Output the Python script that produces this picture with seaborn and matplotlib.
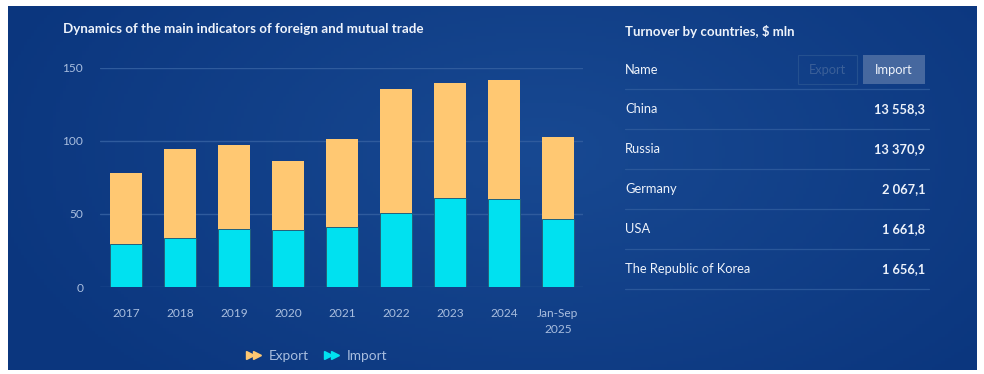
import numpy as np
import pandas as pd
import matplotlib
matplotlib.use("Agg")
import matplotlib.pyplot as plt
from matplotlib.lines import Line2D
from matplotlib.legend_handler import HandlerTuple
from matplotlib.patches import Rectangle
import seaborn as sns

# ---------------- data ----------------
years = ["2017", "2018", "2019", "2020", "2021", "2022", "2023", "2024", "Jan-Sep\n2025"]
export_vals = [48.5, 61.1, 57.7, 47.5, 60.3, 84.4, 78.7, 81.6, 56.6]
import_vals = [29.3, 33.7, 39.8, 38.7, 41.3, 50.9, 61.1, 60.3, 46.4]
y_ticks = [0, 50, 100, 150]

countries = ["China", "Russia", "Germany", "USA", "The Republic of Korea"]
country_values = [13558.3, 13370.9, 2067.1, 1661.8, 1656.1]

chart_title = "Dynamics of the main indicators of foreign and mutual trade"
table_title = "Turnover by countries, $ mln"

# ---------------- style ----------------
sns.set_theme(style="white")
plt.rcParams["font.family"] = ["Lato", "DejaVu Sans"]

ORANGE = "#FFC872"
CYAN = "#00E1F0"
TICK = "#a9bedf"
WHITE = "#eef3fb"
GRID = "#2f5b9d"

W, H = 984, 374
fig = plt.figure(figsize=(W / 100, H / 100), dpi=100, facecolor="white")

def fx(px):
    return px / W

def fy(py):
    return 1 - py / H

# background panel with gradient
bg = fig.add_axes([fx(8), fy(370), fx(977 - 8), (370 - 6) / H])
bg.set_axis_off()
gx, gy = np.meshgrid(np.linspace(0, 1, 300), np.linspace(0, 1, 120))
c_dark = np.array([0x0b, 0x36, 0x7e]) / 255
c_light = np.array([0x18, 0x49, 0x92]) / 255
d = np.sqrt(((gx - 0.55) / 0.6) ** 2 + ((gy - 0.4) / 0.9) ** 2)
t = np.clip(1 - d, 0, 1)[..., None]
img = c_dark + (c_light - c_dark) * t
bg.imshow(img, aspect="auto", extent=[0, 1, 0, 1], origin="upper")
bg.set_xlim(0, 1)
bg.set_ylim(0, 1)

# ---------------- bar chart ----------------
df = pd.DataFrame({"year": years, "export": export_vals, "import": import_vals})
df["total"] = df["export"] + df["import"]

ax = fig.add_axes([fx(100), fy(287), fx(583 - 100), (287 - 68) / H])
ax.patch.set_alpha(0)
sns.barplot(data=df, x="year", y="total", color=ORANGE, saturation=1,
            width=0.61, linewidth=0, ax=ax, zorder=3)
sns.barplot(data=df, x="year", y="import", color=CYAN, saturation=1,
            width=0.61, edgecolor="#21607c", linewidth=0.7, ax=ax, zorder=4)

ax.set_xlim(-(126 - 100) / 54, 8 + (583 - 558) / 54)
ax.set_ylim(0, 150)
ax.set_yticks(y_ticks)
ax.yaxis.grid(True, color=GRID, linewidth=1.0, zorder=0)
ax.set_axisbelow(True)
for s in ax.spines.values():
    s.set_visible(False)
ax.set_xlabel("")
ax.set_ylabel("")
ax.tick_params(axis="both", length=0, colors=TICK, labelsize=8.6)
ax.tick_params(axis="x", pad=15)
ax.tick_params(axis="y", pad=12)
for lab in ax.get_xticklabels():
    lab.set_linespacing(1.6)
    lab.set_verticalalignment("top")

fig.text(fx(63), fy(29), chart_title, color=WHITE, fontsize=9.6,
         fontweight="bold", va="center", ha="left")

# legend
h_exp = (Line2D([], [], marker=">", color=ORANGE, linestyle="none", markersize=5.5),
         Line2D([], [], marker=">", color=ORANGE, linestyle="none", markersize=5.5))
h_imp = (Line2D([], [], marker=">", color=CYAN, linestyle="none", markersize=5.5),
         Line2D([], [], marker=">", color=CYAN, linestyle="none", markersize=5.5))
leg = fig.legend([h_exp, h_imp], ["Export", "Import"],
                 handler_map={tuple: HandlerTuple(ndivide=None, pad=-0.2)},
                 loc="center", bbox_to_anchor=(fx(316), fy(356)), ncol=2,
                 frameon=False, fontsize=9.8, handlelength=1.3,
                 handletextpad=0.5, columnspacing=1.0, labelcolor=TICK)

# ---------------- table ----------------
tab = fig.add_axes([0, 0, 1, 1])
tab.set_axis_off()
tab.patch.set_alpha(0)
tab.set_xlim(0, W)
tab.set_ylim(H, 0)

tab.text(625, 31, table_title, color=WHITE, fontsize=9.5, fontweight="bold",
         va="center", ha="left")
tab.text(625, 70, "Name", color=WHITE, fontsize=9.3, va="center", ha="left")

tab.add_patch(Rectangle((798, 55), 59, 29, facecolor="none",
                        edgecolor="#24508f", linewidth=0.8))
tab.text(827.5, 70, "Export", color="#3a5f98", fontsize=9.3, va="center", ha="center")
tab.add_patch(Rectangle((863, 55), 62, 29, facecolor="#46689f",
                        edgecolor="none"))
tab.text(894, 70, "Import", color=WHITE, fontsize=9.3, va="center", ha="center")

line_y = [89, 129, 169, 209, 249, 289]
for yy in line_y:
    tab.plot([625, 929], [yy, yy], color="#2a579a", linewidth=0.9)

def fmt(v):
    s = f"{v:,.1f}"
    return s.replace(",", " ").replace(".", ",")

for i, (c, v) in enumerate(zip(countries, country_values)):
    yy = 109 + 40 * i
    tab.text(625, yy, c, color=WHITE, fontsize=9.3, va="center", ha="left")
    tab.text(925, yy, fmt(v), color=WHITE, fontsize=9.3, fontweight="bold",
             va="center", ha="right")

fig.savefig("out.png", dpi=100, facecolor="white")
